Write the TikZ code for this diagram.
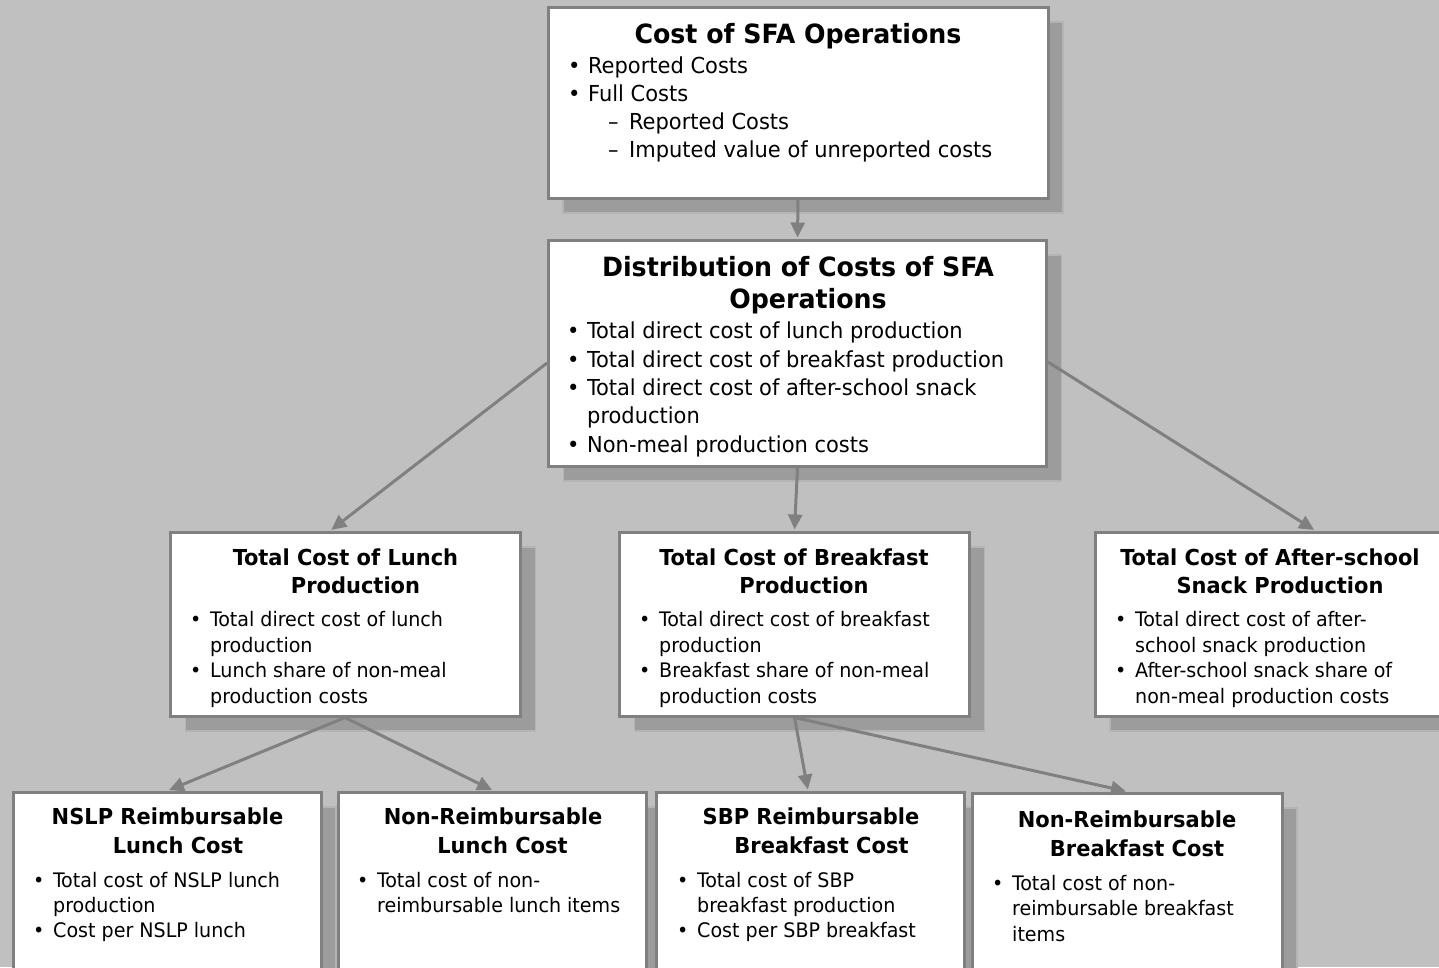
\documentclass[tikz,border=0pt]{standalone}
\usepackage{fontspec}
\setmainfont{DejaVu Sans Condensed}[FakeStretch=1.06]
\usetikzlibrary{shadows,arrows.meta}
\definecolor{bgc}{HTML}{C0C0C0}
\definecolor{bordc}{HTML}{808080}
\definecolor{shadc}{HTML}{9C9C9C}
\definecolor{shadb}{HTML}{B4B4B4}
\definecolor{arrc}{HTML}{808080}
\newcommand{\bu}{\makebox[20pt][l]{•}}
\newcommand{\da}{\makebox[21pt][l]{–}}
\begin{document}
\begin{tikzpicture}[x=1pt,y=-1pt,
  box/.style={draw=bordc, line width=3pt, fill=white, inner sep=0pt,
    drop shadow={shadow xshift=15pt, shadow yshift=-15pt, fill=shadc, draw=shadb, line width=1.5pt, opacity=1}},
  tA/.style={inner sep=0pt, anchor=base, font=\fontsize{26.5}{30}\selectfont\bfseries},
  bA/.style={inner sep=0pt, anchor=base west, font=\fontsize{22}{26}\selectfont},
  tB/.style={inner sep=0pt, anchor=base, font=\fontsize{22}{26}\selectfont\bfseries},
  bB/.style={inner sep=0pt, anchor=base west, font=\fontsize{20}{24}\selectfont},
  tC/.style={inner sep=0pt, anchor=base, font=\fontsize{22}{25}\selectfont\bfseries},
  bC/.style={inner sep=0pt, anchor=base west, font=\fontsize{20}{24}\selectfont},
  arr/.style={draw=arrc, line width=3pt, -{Triangle[length=15pt,width=14pt]}, shorten >=1pt}
]
\useasboundingbox (0,0) rectangle (1439,967);
\fill[bgc] (0,0) rectangle (1439,967);

% boxes
\node[box, minimum width=500pt, minimum height=191pt] (b1) at (798,102.5) {};
\node[box, minimum width=498pt, minimum height=226pt] (b2) at (797.5,353) {};
\node[box, minimum width=350pt, minimum height=184pt] (b3) at (345.5,624) {};
\node[box, minimum width=350pt, minimum height=184pt] (b4) at (794.5,624) {};
\node[box, minimum width=350pt, minimum height=184pt] (b5) at (1270,624) {};
\node[box, minimum width=308pt, minimum height=200pt] (b6) at (167,892) {};
\node[box, minimum width=308pt, minimum height=200pt] (b7) at (492,892) {};
\node[box, minimum width=308pt, minimum height=200pt] (b8) at (810.5,892) {};
\node[box, minimum width=310pt, minimum height=200pt] (b9) at (1127,893) {};

% box 1
\node[tA] (t1) at (798,43) {Cost of SFA Operations};
\node[bA] (t1a) at (568,73) {\bu Reported Costs};
\node[bA] (t1b) at (568,101) {\bu Full Costs};
\node[bA] (t1c) at (608,129) {\da Reported Costs};
\node[bA] (t1d) at (608,157) {\da Imputed value of unreported costs};

% box 2
\node[tA] (t2) at (798,276) {Distribution of Costs of SFA};
\node[tA] (t2x) at (808,308) {Operations};
\node[bA] (t2a) at (567,338) {\bu Total direct cost of lunch production};
\node[bA] (t2b) at (567,367) {\bu Total direct cost of breakfast production};
\node[bA] (t2c) at (567,395) {\bu Total direct cost of after-school snack};
\node[bA] (t2d) at (587,423) {production};
\node[bA] (t2e) at (567,452) {\bu Non-meal production costs};

% box 3
\node[tB] (t3) at (345.5,565) {Total Cost of Lunch};
\node[tB] (t3x) at (355.5,593) {Production};
\node[bB] (t3a) at (190,626) {\bu Total direct cost of lunch};
\node[bB] (t3b) at (210,652) {production};
\node[bB] (t3c) at (190,677) {\bu Lunch share of non-meal};
\node[bB] (t3d) at (210,703) {production costs};

% box 4
\node[tB] (t4) at (794,565) {Total Cost of Breakfast};
\node[tB] (t4x) at (804,593) {Production};
\node[bB] (t4a) at (639,626) {\bu Total direct cost of breakfast};
\node[bB] (t4b) at (659,652) {production};
\node[bB] (t4c) at (639,677) {\bu Breakfast share of non-meal};
\node[bB] (t4d) at (659,703) {production costs};

% box 5
\node[tB] (t5) at (1270,565) {Total Cost of After-school};
\node[tB] (t5x) at (1280,593) {Snack Production};
\node[bB] (t5a) at (1115,626) {\bu Total direct cost of after-};
\node[bB] (t5b) at (1135,652) {school snack production};
\node[bB] (t5c) at (1115,677) {\bu After-school snack share of};
\node[bB] (t5d) at (1135,703) {non-meal production costs};

% box 6
\node[tC] (t6) at (167.5,824) {NSLP Reimbursable};
\node[tC] (t6x) at (178,853) {Lunch Cost};
\node[bC] (t6a) at (33,887) {\bu Total cost of NSLP lunch};
\node[bC] (t6b) at (53,912) {production};
\node[bC] (t6c) at (33,937) {\bu Cost per NSLP lunch};

% box 7
\node[tC] (t7) at (493,824) {Non-Reimbursable};
\node[tC] (t7x) at (502.5,853) {Lunch Cost};
\node[bC] (t7a) at (357,887) {\bu Total cost of non-};
\node[bC] (t7b) at (377,912) {reimbursable lunch items};

% box 8
\node[tC] (t8) at (811,824) {SBP Reimbursable};
\node[tC] (t8x) at (821.5,853) {Breakfast Cost};
\node[bC] (t8a) at (677,887) {\bu Total cost of SBP};
\node[bC] (t8b) at (697,912) {breakfast production};
\node[bC] (t8c) at (677,937) {\bu Cost per SBP breakfast};

% box 9
\node[tC] (t9) at (1127,827) {Non-Reimbursable};
\node[tC] (t9x) at (1137,856) {Breakfast Cost};
\node[bC] (t9a) at (992,890) {\bu Total cost of non-};
\node[bC] (t9b) at (1012,915) {reimbursable breakfast};
\node[bC] (t9c) at (1012,941) {items};

% connectors
\draw[arr] (b1.south) -- (b2.north);
\draw[arr] ([yshift=-10pt]b2.west) -- ([xshift=-15pt]b3.north);
\draw[arr] (b2.south) -- (b4.north);
\draw[arr] ([yshift=-9pt]b2.east) -- ([xshift=45pt]b5.north);
\draw[arr] ([xshift=-0.5pt]b3.south) -- ([xshift=1pt]b6.north);
\draw[arr] ([xshift=-0.5pt]b3.south) -- ([xshift=1pt]b7.north);
\draw[arr] (b4.south) -- ([xshift=-2.5pt]b8.north);
\draw[arr] (b4.south) -- (b9.north);
\end{tikzpicture}
\end{document}
